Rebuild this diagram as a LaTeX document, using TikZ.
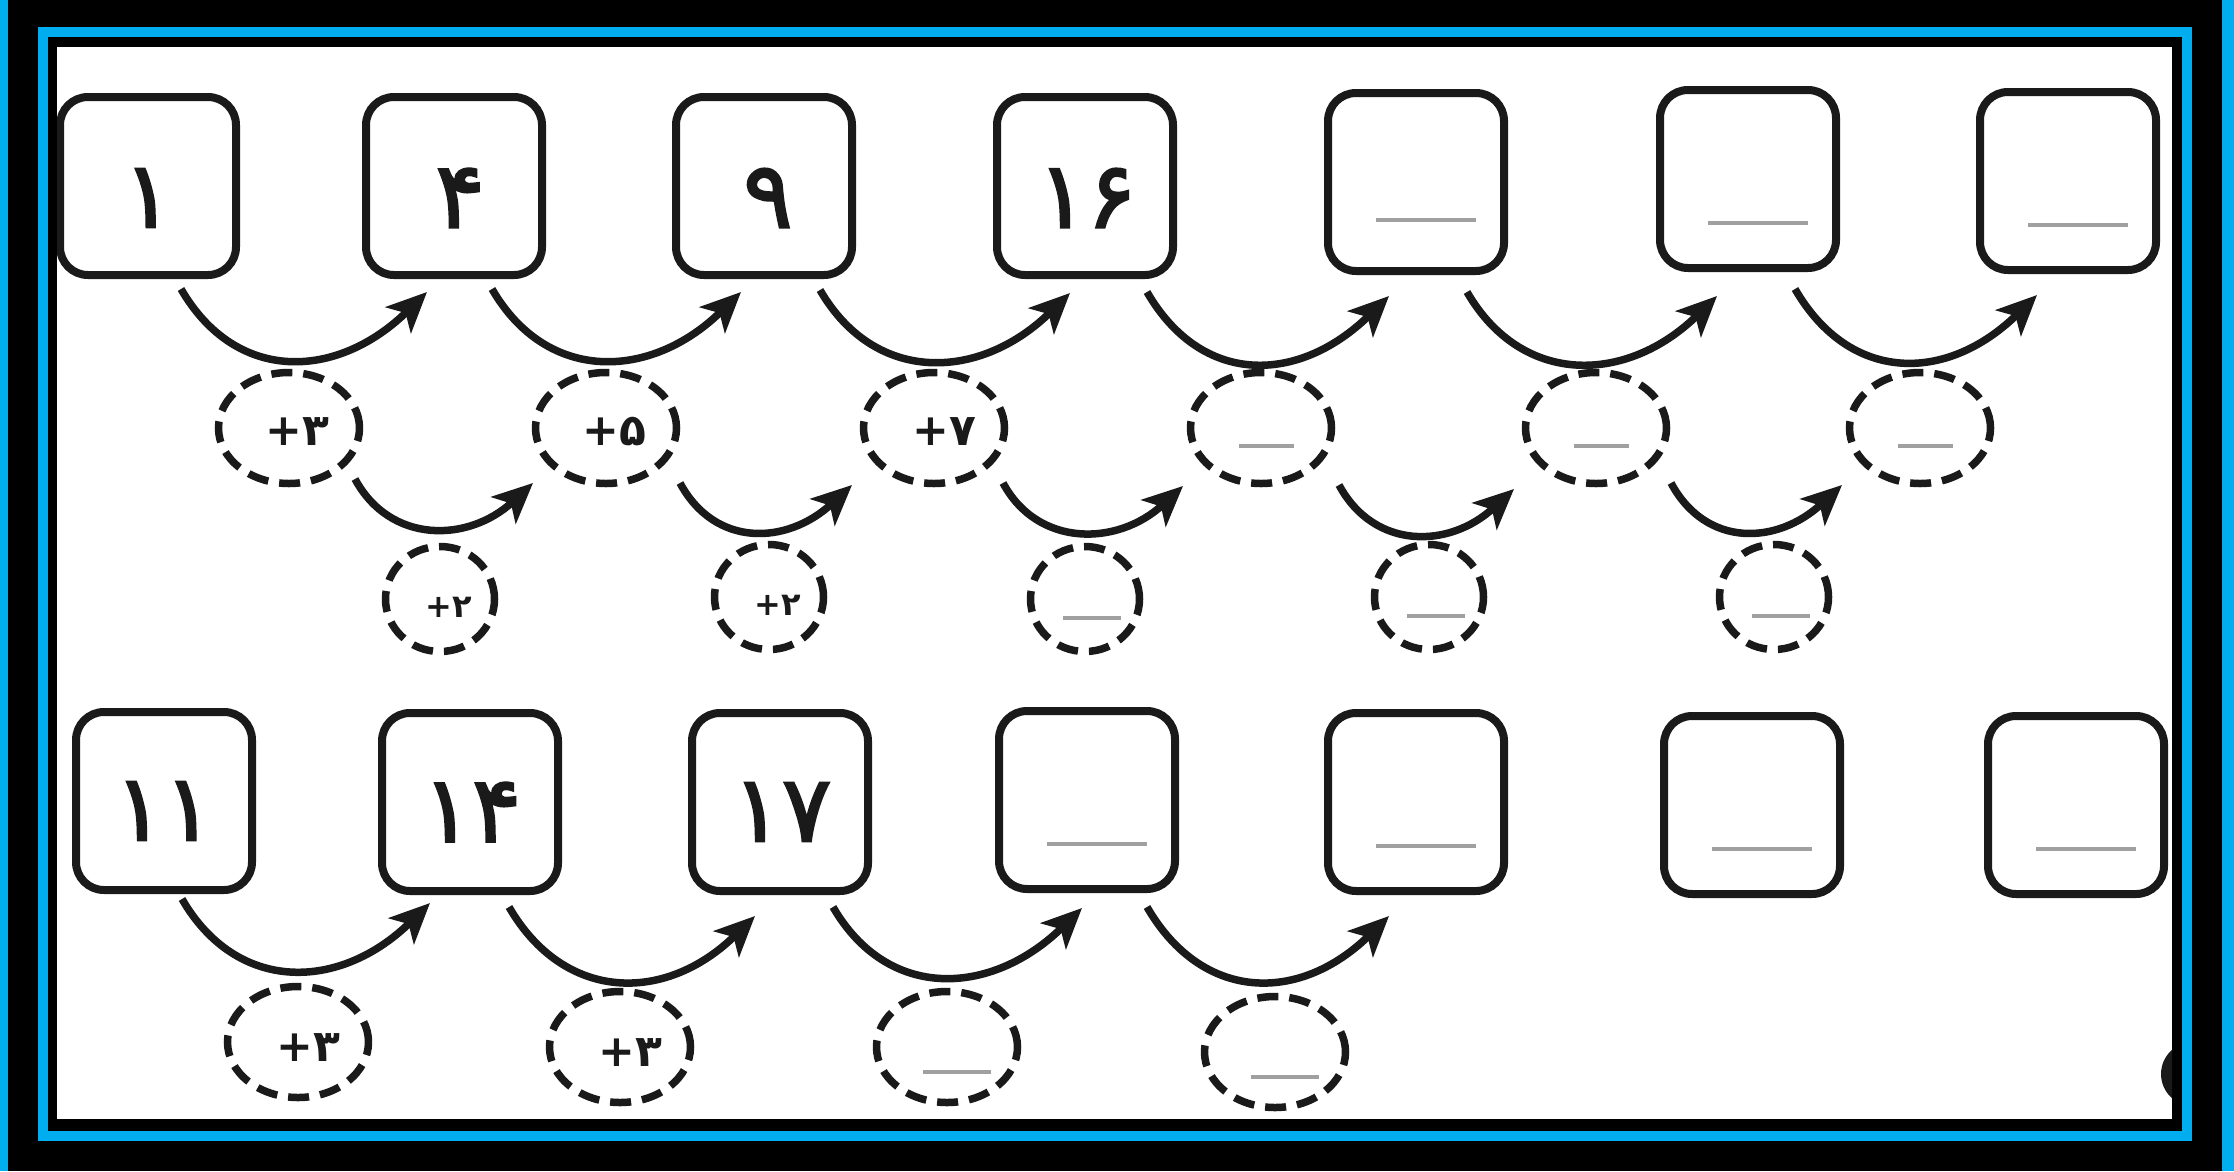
\documentclass[tikz,border=0pt]{standalone}
\usepackage{fontspec}
\newfontfamily\pfont{DejaVu Sans}
\newfontfamily\pnum[RawFeature={embolden=2.5}]{DejaVu Sans}
\usetikzlibrary{shapes.geometric,arrows.meta,calc}
\definecolor{cyanframe}{RGB}{0,174,239}
\definecolor{ink}{RGB}{26,26,26}
\definecolor{blankgray}{RGB}{160,160,160}
\begin{document}
\begin{tikzpicture}[x=1pt,y=-1pt,
  box/.style={draw=ink,line width=8pt,rounded corners=28pt,minimum width=176pt,minimum height=178pt,inner sep=0pt},
  ov/.style={ellipse,draw=ink,line width=7.5pt,dash pattern=on 21pt off 11pt,minimum width=141pt,minimum height=111pt,inner sep=0pt},
  sov/.style={ov,minimum width=109pt,minimum height=105pt},
  arr/.style={draw=ink,line width=7.5pt,-{Stealth[length=40pt,width=36pt,inset=10pt]}},
  num/.style={font=\pnum\fontsize{92}{92}\selectfont,text=ink,inner sep=0pt},
  lab/.style={font=\pfont\bfseries\fontsize{44}{44}\selectfont,text=ink,inner sep=0pt},
  slab/.style={font=\pfont\bfseries\fontsize{32}{32}\selectfont,text=ink,inner sep=0pt},
  blank/.style={fill=blankgray,minimum height=4.5pt,inner sep=0pt},
]
% frame
\fill[black] (0,0) rectangle (2234,1171);
\fill[cyanframe] (0,0) rectangle (8,1171);
\fill[cyanframe] (2222,0) rectangle (2234,1171);
\fill[cyanframe] (38,27) rectangle (2192,1141);
\fill[black] (48,37) rectangle (2182,1131);
\fill[white] (57,47) rectangle (2172,1119);
\useasboundingbox (0,0) rectangle (2234,1171);

\begin{scope}
\clip (57,47) rectangle (2172,1119);
% top row boxes
\node[box] (b1) at (148,186) {};
\node[box] (b2) at (454,186) {};
\node[box] (b3) at (764,186) {};
\node[box] (b4) at (1085,186) {};
\node[box] (b5) at (1416,182) {};
\node[box] (b6) at (1748,179) {};
\node[box] (b7) at (2068,181) {};
\node[num] (n1) at ($(b1.center)+(0,12)$) {۱};
\node[num] (n2) at ($(b2.center)+(6,12)$) {۴};
\node[num] (n3) at ($(b3.center)+(4,12)$) {۹};
\node[num] (n4) at ($(b4.center)+(2,12)$) {۱۶};
\node[blank,minimum width=100pt] (l5) at ($(b5.center)+(10,38)$) {};
\node[blank,minimum width=100pt] (l6) at ($(b6.center)+(10,44)$) {};
\node[blank,minimum width=100pt] (l7) at ($(b7.center)+(10,44)$) {};

% level-1 ovals
\node[ov] (e1) at (289,428) {};
\node[ov] (e2) at (606,428) {};
\node[ov] (e3) at (934,428) {};
\node[ov] (e4) at (1261,428) {};
\node[ov] (e5) at (1596,428) {};
\node[ov] (e6) at (1920,428) {};
\node[lab] (m1) at ($(e1.center)+(8,4)$) {+۳};
\node[lab] (m2) at ($(e2.center)+(8,4)$) {+۵};
\node[lab] (m3) at ($(e3.center)+(10,4)$) {+۷};
\node[blank,minimum width=55pt] (k4) at ($(e4.center)+(5,18)$) {};
\node[blank,minimum width=55pt] (k5) at ($(e5.center)+(5,18)$) {};
\node[blank,minimum width=55pt] (k6) at ($(e6.center)+(5,18)$) {};

% level-2 ovals
\node[sov] (s1) at (440,599) {};
\node[sov] (s2) at (769,597) {};
\node[sov] (s3) at (1085,599) {};
\node[sov] (s4) at (1429,597) {};
\node[sov] (s5) at (1774,597) {};
\node[slab] (p1) at ($(s1.center)+(9,8)$) {+۲};
\node[slab] (p2) at ($(s2.center)+(9,8)$) {+۲};
\node[blank,minimum width=58pt] (q3) at ($(s3.center)+(7,19)$) {};
\node[blank,minimum width=58pt] (q4) at ($(s4.center)+(7,19)$) {};
\node[blank,minimum width=58pt] (q5) at ($(s5.center)+(7,19)$) {};

% top arcs
\draw[arr] ($(b1.center)+(33,103)$) .. controls +(55,95) and +(-90,88) .. ($(b2.center)+(-27,106)$);
\draw[arr] ($(b2.center)+(38,103)$) .. controls +(55,95) and +(-90,88) .. ($(b3.center)+(-23,106)$);
\draw[arr] ($(b3.center)+(56,104)$) .. controls +(55,95) and +(-90,88) .. ($(b4.center)+(-15,107)$);
\draw[arr] ($(b4.center)+(62,106)$) .. controls +(55,95) and +(-90,88) .. ($(b5.center)+(-27,114)$);
\draw[arr] ($(b5.center)+(51,110)$) .. controls +(55,95) and +(-90,88) .. ($(b6.center)+(-31,117)$);
\draw[arr] ($(b6.center)+(47,110)$) .. controls +(55,95) and +(-90,88) .. ($(b7.center)+(-31,114)$);

% level-2 arcs
\draw[arr] ($(e1.center)+(66,51)$) .. controls +(35,65) and +(-65,60) .. ($(e2.center)+(-73,55)$);
\draw[arr] ($(e2.center)+(74,55)$) .. controls +(35,65) and +(-65,60) .. ($(e3.center)+(-82,57)$);
\draw[arr] ($(e3.center)+(69,55)$) .. controls +(35,65) and +(-65,60) .. ($(e4.center)+(-78,58)$);
\draw[arr] ($(e4.center)+(78,57)$) .. controls +(35,65) and +(-65,60) .. ($(e5.center)+(-82,61)$);
\draw[arr] ($(e5.center)+(75,55)$) .. controls +(35,65) and +(-65,60) .. ($(e6.center)+(-78,57)$);

% bottom row boxes
\node[box] (c1) at (164,801) {};
\node[box] (c2) at (470,802) {};
\node[box] (c3) at (780,802) {};
\node[box] (c4) at (1087,800) {};
\node[box] (c5) at (1416,802) {};
\node[box] (c6) at (1752,805) {};
\node[box] (c7) at (2076,805) {};
\node[num] (r1) at ($(c1.center)+(0,10)$) {۱۱};
\node[num] (r2) at ($(c2.center)+(2,10)$) {۱۴};
\node[num] (r3) at ($(c3.center)+(2,10)$) {۱۷};
\node[blank,minimum width=100pt] (u4) at ($(c4.center)+(10,44)$) {};
\node[blank,minimum width=100pt] (u5) at ($(c5.center)+(10,44)$) {};
\node[blank,minimum width=100pt] (u6) at ($(c6.center)+(10,44)$) {};
\node[blank,minimum width=100pt] (u7) at ($(c7.center)+(10,44)$) {};

% bottom ovals
\node[ov] (f1) at (298,1042) {};
\node[ov] (f2) at (620,1047) {};
\node[ov] (f3) at (947,1047) {};
\node[ov] (f4) at (1275,1052) {};
\node[lab] (g1) at ($(f1.center)+(10,6)$) {+۳};
\node[lab] (g2) at ($(f2.center)+(10,6)$) {+۳};
\node[blank,minimum width=68pt] (h3) at ($(f3.center)+(10,25)$) {};
\node[blank,minimum width=68pt] (h4) at ($(f4.center)+(10,25)$) {};

% bottom arcs
\draw[arr] ($(c1.center)+(18,98)$) .. controls +(55,95) and +(-90,88) .. ($(c2.center)+(-40,101)$);
\draw[arr] ($(c2.center)+(39,105)$) .. controls +(55,95) and +(-90,88) .. ($(c3.center)+(-25,114)$);
\draw[arr] ($(c3.center)+(53,105)$) .. controls +(55,95) and +(-90,88) .. ($(c4.center)+(-5,108)$);
\draw[arr] ($(c4.center)+(60,107)$) .. controls +(55,95) and +(-90,88) .. ($(c5.center)+(-27,114)$);

% dark blob at the right edge
\fill[ink] (2193,1074) circle[radius=32];
\end{scope}
\end{tikzpicture}
\end{document}
